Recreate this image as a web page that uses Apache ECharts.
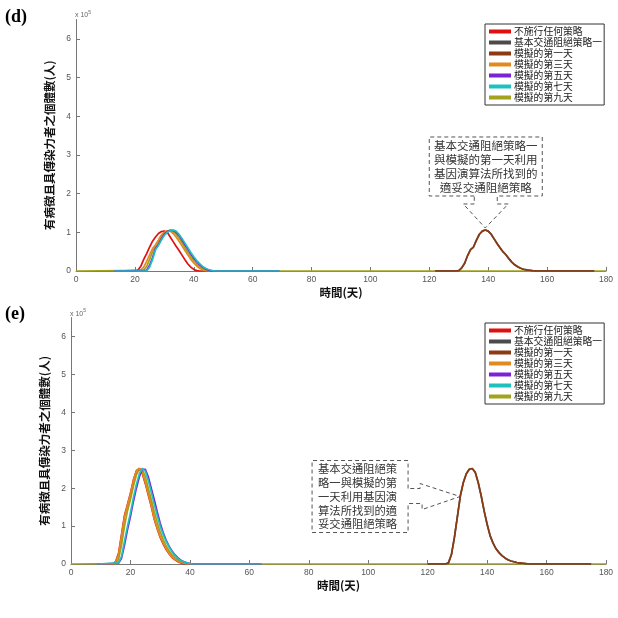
<!DOCTYPE html>
<html><head><meta charset="utf-8">
<script src="https://cdn.jsdelivr.net/npm/echarts@6/dist/echarts.min.js"></script>
<style>html,body{margin:0;padding:0;background:#fff}#c{width:618px;height:618px}</style>
</head><body><div id="c"></div>
<script>
// ---------- names / colours ----------
const seriesNames = ['不施行任何策略','基本交通阻絕策略一','模擬的第一天','模擬的第三天','模擬的第五天','模擬的第七天','模擬的第九天'];
const seriesColors = ['#e01010','#4a4a4a','#8c3a12','#e08a1f','#7b22d4','#1fc0c0','#a3a21c'];
const xTicks = [0,20,40,60,80,100,120,140,160,180];
const yTicks = [0,1,2,3,4,5,6];

// ---------- panel (d) : values in units of 10^5 persons, one per day from start ----------
const dRedStart = 20;
const dRed = [0,0.02,0.12,0.3,0.45,0.62,0.77,0.88,0.97,1.02,1.03,1.0,0.88,0.76,0.64,0.53,0.41,0.29,0.18,0.1,0.04,0.01,0];
const dGrayStart = 129;
const dGray = [0,0.01,0.08,0.2,0.4,0.55,0.62,0.8,0.95,1.03,1.06,1.03,0.95,0.83,0.71,0.6,0.5,0.42,0.32,0.23,0.16,0.11,0.07,0.045,0.03,0.02,0.01,0.005,0];
const dBrownStart = 129;
const dBrown = [0,0.01,0.08,0.2,0.4,0.55,0.62,0.8,0.95,1.03,1.06,1.03,0.95,0.83,0.71,0.6,0.5,0.42,0.32,0.23,0.16,0.11,0.07,0.045,0.03,0.02,0.01,0.005,0];
const dOrangeStart = 22;
const dOrange = [0.02,0.1,0.25,0.42,0.58,0.68,0.8,0.93,1.0,1.04,1.03,0.97,0.88,0.77,0.65,0.53,0.41,0.3,0.21,0.13,0.07,0.03,0.01,0];
const dPurpleStart = 24;
const dPurple = [0.02,0.15,0.35,0.58,0.68,0.83,0.95,1.02,1.05,1.05,1.0,0.92,0.8,0.68,0.56,0.44,0.33,0.24,0.16,0.1,0.05,0.02,0];
const dCyanStart = 24;
const dCyan = [0,0.1,0.3,0.55,0.66,0.8,0.92,1.0,1.04,1.06,1.03,0.95,0.84,0.72,0.6,0.48,0.37,0.27,0.19,0.12,0.07,0.04,0.02,0];
const dOliveStart = 23;
const dOlive = [0.02,0.12,0.3,0.5,0.63,0.74,0.88,0.98,1.03,1.05,1.02,0.95,0.85,0.73,0.6,0.48,0.37,0.27,0.18,0.11,0.06,0.03,0.01,0];
// zero-level extents of each curve (days)
const dLeftSpan = [13,69];
const dRightSpan = [122,176];
const dFullSpan = [0,180];

// ---------- panel (e) ----------
const eRedStart = 14;
const eRed = [0,0.06,0.28,0.78,1.28,1.57,1.87,2.22,2.46,2.52,2.38,2.12,1.82,1.52,1.18,0.93,0.7,0.53,0.38,0.27,0.17,0.11,0.06,0.03,0.01,0];
const eGrayStart = 126;
const eGray = [0,0.03,0.25,0.7,1.25,1.8,2.15,2.38,2.5,2.52,2.42,2.15,1.8,1.4,1.05,0.75,0.55,0.4,0.3,0.22,0.16,0.11,0.08,0.06,0.04,0.03,0.02,0.01,0];
const eBrownStart = 126;
const eBrown = [0,0.03,0.25,0.7,1.25,1.8,2.15,2.38,2.5,2.52,2.42,2.15,1.8,1.4,1.05,0.75,0.55,0.4,0.3,0.22,0.16,0.11,0.08,0.06,0.04,0.03,0.02,0.01,0];
const eOrangeStart = 14;
const eOrange = [0,0.05,0.25,0.75,1.25,1.55,1.85,2.2,2.45,2.52,2.4,2.15,1.85,1.55,1.2,0.95,0.72,0.55,0.4,0.28,0.18,0.12,0.07,0.04,0.02,0];
const ePurpleStart = 16;
const ePurple = [0.02,0.15,0.5,0.9,1.25,1.65,2.0,2.3,2.5,2.5,2.3,2.0,1.7,1.38,1.08,0.83,0.63,0.47,0.34,0.24,0.16,0.1,0.06,0.03,0.01,0];
const eCyanStart = 16;
const eCyan = [0.03,0.2,0.6,1.0,1.35,1.75,2.1,2.38,2.52,2.45,2.2,1.9,1.58,1.28,1.0,0.78,0.6,0.45,0.32,0.22,0.14,0.09,0.05,0.03,0.01,0];
const eOliveStart = 15;
const eOlive = [0.01,0.12,0.5,1.0,1.4,1.7,2.05,2.35,2.5,2.5,2.3,2.0,1.7,1.38,1.1,0.85,0.65,0.48,0.35,0.24,0.16,0.1,0.06,0.03,0.01,0];
const eLeftSpan = [9,64];
const eRightSpan = [120,175];
const eFullSpan = [0,180];

// annotation texts
const noteD = ['基本交通阻絕策略一','與模擬的第一天利用','基因演算法所找到的','適妥交通阻絕策略'];
const noteE = ['基本交通阻絕策','略一與模擬的第','一天利用基因演','算法所找到的適','妥交通阻絕策略'];

function build(start, vals, span){
  const pts = [[span[0],0]];
  vals.forEach((v,i)=>pts.push([start+i,v]));
  pts.push([span[1],0]);
  return pts;
}

const panelD = [
  build(dRedStart,dRed,dLeftSpan), build(dGrayStart,dGray,dRightSpan), build(dBrownStart,dBrown,dRightSpan),
  build(dOrangeStart,dOrange,dLeftSpan), build(dPurpleStart,dPurple,dLeftSpan), build(dCyanStart,dCyan,dLeftSpan),
  build(dOliveStart,dOlive,dFullSpan)
];
const panelE = [
  build(eRedStart,eRed,eLeftSpan), build(eGrayStart,eGray,eRightSpan), build(eBrownStart,eBrown,eRightSpan),
  build(eOrangeStart,eOrange,eLeftSpan), build(ePurpleStart,ePurple,eLeftSpan), build(eCyanStart,eCyan,eLeftSpan),
  build(eOliveStart,eOlive,eFullSpan)
];
const zOrder = [3,3,4,3,3,3,2];

const chart = echarts.init(document.getElementById('c'), null, {renderer:'canvas'});
const sansCJK = '"Noto Sans CJK TC", "Noto Sans CJK SC", sans-serif';

function xAxisCfg(gi){
  return {
    gridIndex: gi, type:'value', min:0, max:180, interval:20,
    axisLine:{lineStyle:{color:'#777',width:1}},
    axisTick:{inside:true,length:4,lineStyle:{color:'#777'}},
    axisLabel:{color:'#555',fontSize:8.5,margin:4,fontFamily:'"Liberation Sans", Arial, sans-serif'},
    splitLine:{show:false},
    name:'時間(天)', nameLocation:'middle', nameGap:16,
    nameTextStyle:{fontFamily:sansCJK,fontWeight:'bold',fontSize:11.5,color:'#111'}
  };
}
function yAxisCfg(gi){
  return {
    gridIndex: gi, type:'value', min:0, max:6.5, interval:1,
    axisLine:{show:true,lineStyle:{color:'#777',width:1}},
    axisTick:{show:true,inside:true,length:4,lineStyle:{color:'#777'}},
    axisLabel:{color:'#555',fontSize:8.5,margin:5,showMaxLabel:false,
      fontFamily:'"Liberation Sans", Arial, sans-serif',
      formatter:v=> yTicks.indexOf(v)>=0 ? String(v) : ''},
    splitLine:{show:false},
    name:'有病徵且具傳染力者之個體數(人)', nameLocation:'middle', nameRotate:90, nameGap:13,
    nameTextStyle:{fontFamily:sansCJK,fontWeight:'bold',fontSize:11.5,color:'#111'}
  };
}

const series = [];
[panelD, panelE].forEach((panel, gi)=>{
  panel.forEach((data, k)=>{
    series.push({
      name: seriesNames[k], type:'line', xAxisIndex:gi, yAxisIndex:gi,
      data, showSymbol:false, symbol:'none', z: zOrder[k],
      lineStyle:{color:seriesColors[k],width:1.7}, itemStyle:{color:seriesColors[k]},
      animation:false
    });
  });
});

function legendCfg(top){
  return {
    orient:'vertical', left:485, top:top, width:118,
    itemWidth:22, itemHeight:4, itemGap:0, icon:'rect',
    padding:[2,2,2,4],
    borderColor:'#333', borderWidth:1, backgroundColor:'#fff',
    selectedMode:false,
    textStyle:{fontFamily:sansCJK,fontSize:9.8,lineHeight:11,color:'#222',padding:[0,0,0,-2]},
    data: seriesNames
  };
}

chart.setOption({
  animation:false,
  backgroundColor:'#fff',
  grid:[
    {left:76, right:12, top:19.5, bottom:347, containLabel:false},
    {left:71, right:12, top:317.6, bottom:54, containLabel:false}
  ],
  xAxis:[xAxisCfg(0), xAxisCfg(1)],
  yAxis:[yAxisCfg(0), yAxisCfg(1)],
  legend:[legendCfg(24), legendCfg(323)],
  series
});

// ---------- annotations, anchored to data ----------
const dash = {stroke:'#555', lineWidth:1, lineDash:[4,3], fill:null};
const tipD = chart.convertToPixel({gridIndex:0}, [139, 1.06]);
const tipE = chart.convertToPixel({gridIndex:1}, [130.9, 1.78]);
const oD = chart.convertToPixel({gridIndex:0}, [0, 6.5]);
const oE = chart.convertToPixel({gridIndex:1}, [0, 6.5]);
const tx = tipD[0], ty = tipD[1]-2;
const ux = tipE[0], uy = tipE[1];

const graphic = [
  {type:'text', left:5, top:8, style:{text:'(d)', font:'bold 18px "Liberation Serif", serif', fill:'#000'}},
  {type:'text', left:5, top:305, style:{text:'(e)', font:'bold 18px "Liberation Serif", serif', fill:'#000'}},
  {type:'text', x:oD[0]-1, y:oD[1]-9, style:{text:'{a|x 10}{b|5}', rich:{a:{fontSize:7,fill:'#666'},b:{fontSize:5,fill:'#666',verticalAlign:'top',padding:[0,0,5,0]}}}},
  {type:'text', x:oE[0]-1, y:oE[1]-9, style:{text:'{a|x 10}{b|5}', rich:{a:{fontSize:7,fill:'#666'},b:{fontSize:5,fill:'#666',verticalAlign:'top',padding:[0,0,5,0]}}}},
  {type:'polyline', z:100, shape:{points:[
    [tx-11,ty-32],[tx-56,ty-32],[tx-56,ty-91],[tx+57,ty-91],[tx+57,ty-32],[tx+12,ty-32],
    [tx+12,ty-24],[tx+23,ty-24],[tx,ty],[tx-22,ty-24],[tx-11,ty-24],[tx-11,ty-32]]}, style:dash},
  {type:'text', z:100, x:tx+0.5, y:ty-61.5, style:{text:noteD.join('\n'), fontFamily:sansCJK, fontSize:11.5,
    lineHeight:13.8, fill:'#333', align:'center', verticalAlign:'middle'}},
  {type:'polyline', z:100, shape:{points:[
    [ux-52,uy-8],[ux-52,uy-36],[ux-148,uy-36],[ux-148,uy+36],[ux-52,uy+36],[ux-52,uy+7],
    [ux-38,uy+7],[ux-38,uy+13],[ux,uy],[ux-40,uy-13],[ux-40,uy-8],[ux-52,uy-8]]}, style:dash},
  {type:'text', z:100, x:ux-142, y:uy, style:{text:noteE.join('\n'), fontFamily:sansCJK, fontSize:11.3,
    lineHeight:13.8, fill:'#333', align:'left', verticalAlign:'middle'}}
];
chart.setOption({graphic});
</script>
</body></html>
